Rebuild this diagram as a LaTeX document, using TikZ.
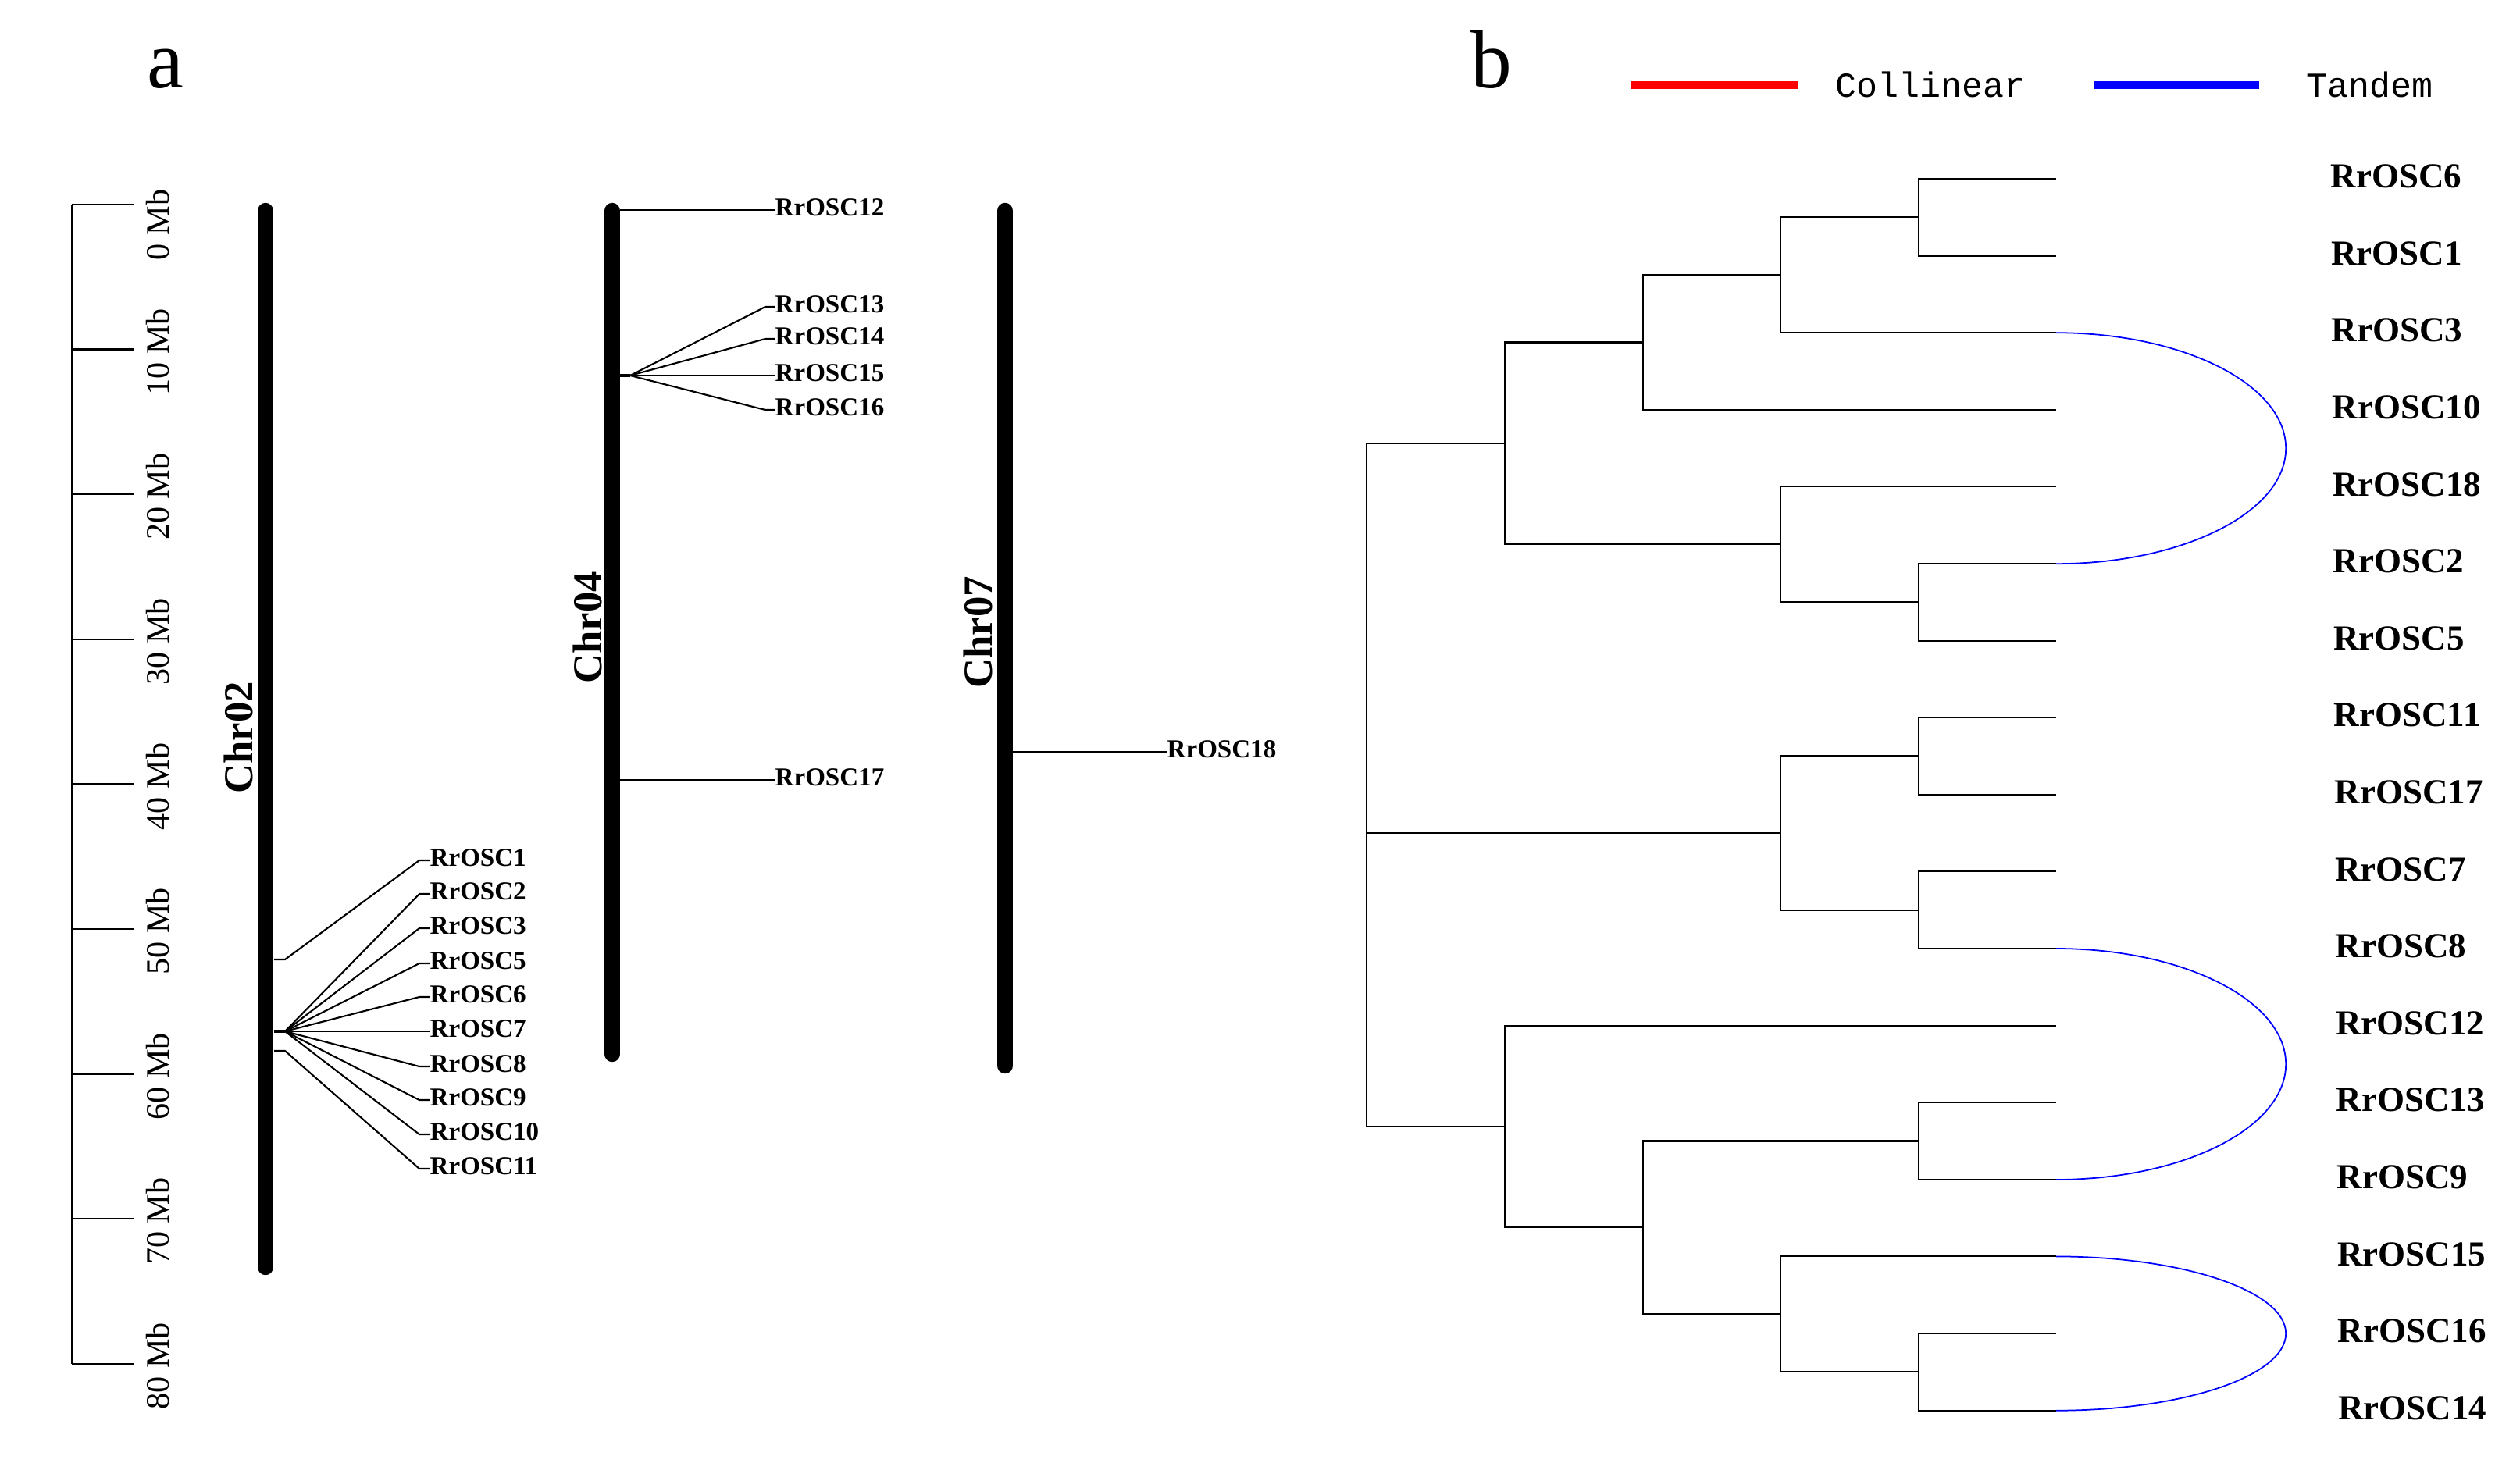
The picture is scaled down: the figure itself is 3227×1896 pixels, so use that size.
\documentclass[tikz,border=0pt]{standalone}
\usepackage{fontspec}
\setmainfont{Liberation Serif}
\newfontfamily\legendfont{Liberation Mono}
\begin{document}
\begin{tikzpicture}[x=0.01cm,y=-0.01cm,
  chrom/.style={line width=5.8pt, line cap=round},
  gline/.style={line width=0.6pt},
  stub/.style={line width=1.2pt},
  glabel/.style={anchor=west, inner sep=0pt, font=\bfseries\fontsize{9.4}{10}\selectfont, yshift=0.35mm},
  axisline/.style={line width=0.4pt},
  tickline/.style={line width=0.7pt},
  ticklabel/.style={rotate=90, inner sep=0pt, font=\fontsize{12}{14}\selectfont},
  chrlabel/.style={rotate=90, inner sep=0pt, font=\bfseries\fontsize{15}{17}\selectfont},
  tree/.style={line width=0.6pt},
  tandem/.style={blue, line width=0.5pt},
  leaflabel/.style={anchor=west, inner sep=0pt, font=\bfseries\fontsize{12.8}{14}\selectfont},
  panel/.style={anchor=base, inner sep=0pt, font=\fontsize{30}{34}\selectfont},
  legtext/.style={anchor=west, inner sep=0pt, font=\legendfont\fontsize{12.8}{14}\selectfont},
  legline/.style={line width=2.85pt}
]
\useasboundingbox (0,0) rectangle (3227,1896);

% ---------- panel labels ----------
\node[panel] (pa) at (212,112) {a};
\node[panel] (pb) at (1910,112) {b};

% ---------- scale axis ----------
\coordinate (axtop) at (92,262);
\coordinate (axbot) at (92,1747);
\draw[axisline] (axtop) -- (axbot);
\foreach \k in {0,...,8}{
  \pgfmathsetmacro\ty{262+185.6*\k}
  \coordinate (tka\k) at (92,\ty);
  \coordinate (tkb\k) at (172,\ty);
  \draw[tickline] (tka\k) -- (tkb\k);
  \ifnum\k=0
    \node[ticklabel] (tl\k) at (202,288) {0 Mb};
  \else
    \node[ticklabel] (tl\k) at (202,\ty+3) {\k0 Mb};
  \fi
}

% ---------- chromosomes ----------
\coordinate (c2t) at (340,270);  \coordinate (c2b) at (340,1623);
\coordinate (c4t) at (784,270);  \coordinate (c4b) at (784,1350);
\coordinate (c7t) at (1287,270); \coordinate (c7b) at (1287,1365);
\draw[chrom] (c2t) -- (c2b);
\draw[chrom] (c4t) -- (c4b);
\draw[chrom] (c7t) -- (c7b);
\node[chrlabel] (chr02) at (305,945) {Chr02};
\node[chrlabel] (chr04) at (752,804) {Chr04};
\node[chrlabel] (chr07) at (1252,810) {Chr07};

% ---------- Chr02 genes ----------
\coordinate (s1) at (351,1229); \coordinate (b1) at (365,1229); \coordinate (e1) at (537,1102);
\node[glabel] (g1) at (550,1102) {RrOSC1};
\draw[gline] (s1) -- (b1) -- (e1) -- (e1 -| g1.west);

\coordinate (fs) at (351,1321); \coordinate (fb) at (365,1321);
\draw[stub] (fs) -- (fb);
\foreach \n/\yy in {2/1145,3/1189,5/1234,6/1277,8/1366,9/1409,10/1453}{
  \coordinate (e\n) at (537,\yy);
  \node[glabel] (g\n) at (550,\yy) {RrOSC\n};
  \draw[gline] (fb) -- (e\n) -- (e\n -| g\n.west);
}
\node[glabel] (g7) at (550,1321) {RrOSC7};
\draw[gline] (fb) -- (fb -| g7.west);

\coordinate (s11) at (351,1346); \coordinate (b11) at (365,1346); \coordinate (e11) at (537,1497);
\node[glabel] (g11) at (550,1497) {RrOSC11};
\draw[gline] (s11) -- (b11) -- (e11) -- (e11 -| g11.west);

% ---------- Chr04 genes ----------
\coordinate (s12) at (794,269);
\node[glabel] (g12) at (992,269) {RrOSC12};
\draw[gline] (s12) -- (s12 -| g12.west);

\coordinate (f4s) at (794,481); \coordinate (f4b) at (807,481);
\draw[stub] (f4s) -- (f4b);
\foreach \n/\yy in {13/393,14/434,16/525}{
  \coordinate (e\n) at (980,\yy);
  \node[glabel] (g\n) at (992,\yy) {RrOSC\n};
  \draw[gline] (f4b) -- (e\n) -- (e\n -| g\n.west);
}
\node[glabel] (g15) at (992,481) {RrOSC15};
\draw[gline] (f4b) -- (f4b -| g15.west);

\coordinate (s17) at (794,999);
\node[glabel] (g17) at (992,999) {RrOSC17};
\draw[gline] (s17) -- (s17 -| g17.west);

% ---------- Chr07 gene ----------
\coordinate (s18) at (1297,963);
\node[glabel] (g18) at (1494,963) {RrOSC18};
\draw[gline] (s18) -- (s18 -| g18.west);

% ---------- legend ----------
\coordinate (rA) at (2088,109); \coordinate (rB) at (2302,109);
\draw[legline, red] (rA) -- (rB);
\node[legtext] (coll) at (2350,108) {Collinear};
\coordinate (bA) at (2681,109); \coordinate (bB) at (2893,109);
\draw[legline, blue] (bA) -- (bB);
\node[legtext] (tand) at (2953,108) {Tandem};

% ---------- tree leaves ----------
\foreach \i/\nm in {0/6,1/1,2/3,3/10,4/18,5/2,6/5,7/11,8/17,9/7,10/8,11/12,12/13,13/9,14/15,15/16,16/14}{
  \pgfmathsetmacro\ly{229+98.6*\i}
  \pgfmathsetmacro\lx{2984+0.6*\i}
  \coordinate (l\i) at (2633,\ly);
  \node[leaflabel] (t\i) at (\lx,\ly-3) {RrOSC\nm};
}

% ---------- internal nodes ----------
\coordinate (na) at (2457,278.3);
\coordinate (nb) at (2280,352.25);
\coordinate (nc) at (2104,438.5);
\coordinate (nd) at (2457,771.3);
\coordinate (ne) at (2280,697.35);
\coordinate (nf) at (1927,567.9);
\coordinate (ng) at (2457,968.5);
\coordinate (nh) at (2457,1165.7);
\coordinate (ni) at (2280,1067.1);
\coordinate (nj) at (2457,1461.5);
\coordinate (nk) at (2457,1757.3);
\coordinate (nl) at (2280,1683.35);
\coordinate (nm) at (2104,1572.4);
\coordinate (nn) at (1927,1443);
\coordinate (root) at (1750,1067.1);

\foreach \p/\c in {na/l0,na/l1,nb/na,nb/l2,nc/nb,nc/l3,
                   nd/l5,nd/l6,ne/l4,ne/nd,nf/nc,nf/ne,
                   ng/l7,ng/l8,nh/l9,nh/l10,ni/ng,ni/nh,
                   nj/l12,nj/l13,nk/l15,nk/l16,nl/l14,nl/nk,
                   nm/nj,nm/nl,nn/l11,nn/nm,
                   root/nf,root/ni,root/nn}{
  \draw[tree] (\p) |- (\c);
}

% ---------- tandem arcs ----------
\draw[tandem] (l2) arc[start angle=90, end angle=-90, x radius=2.94cm, y radius=1.479cm];
\draw[tandem] (l10) arc[start angle=90, end angle=-90, x radius=2.94cm, y radius=1.479cm];
\draw[tandem] (l14) arc[start angle=90, end angle=-90, x radius=2.94cm, y radius=0.986cm];

\end{tikzpicture}
\end{document}
